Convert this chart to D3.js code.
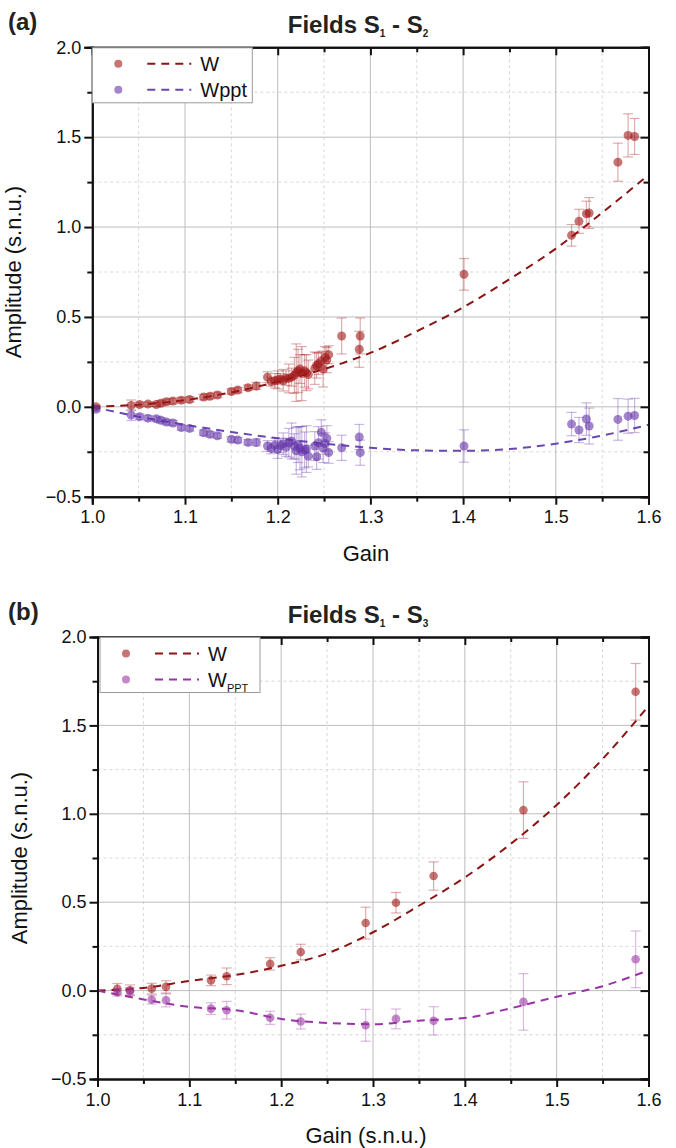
<!DOCTYPE html>
<html>
<head>
<meta charset="utf-8">
<script src="https://cdn.jsdelivr.net/npm/d3@7"></script>
<style>
  body { margin: 0; background: #fff; }
  svg { display: block; font-family: "Liberation Sans", Arial, sans-serif; }
</style>
</head>
<body>
<svg id="chart" width="676" height="1148"></svg>
<script>
// ---- panel (a): Fields S1 - S2 ----
var gainA = [1.004,1.042,1.051,1.060,1.069,1.074,1.080,1.087,1.096,1.105,1.120,1.127,1.135,1.150,1.157,1.168,1.177,1.189,1.193,1.197,1.200,1.203,1.206,1.209,1.212,1.215,1.218,1.220,1.222,1.224,1.226,1.229,1.231,1.233,1.240,1.242,1.244,1.247,1.249,1.251,1.253,1.255,1.269,1.288,1.289,1.401,1.517,1.525,1.533,1.536,1.567,1.578,1.585];
var wA = [0.0,0.008,0.013,0.015,0.013,0.02,0.028,0.032,0.037,0.041,0.054,0.059,0.066,0.085,0.093,0.106,0.116,0.165,0.14,0.145,0.15,0.155,0.148,0.16,0.158,0.165,0.175,0.19,0.2,0.21,0.185,0.2,0.19,0.18,0.215,0.23,0.24,0.255,0.21,0.275,0.26,0.29,0.394,0.32,0.394,0.737,0.954,1.032,1.074,1.078,1.361,1.51,1.504];
var wErrA = [0.01,0.03,0.012,0.012,0.012,0.015,0.015,0.015,0.015,0.015,0.015,0.015,0.015,0.015,0.015,0.015,0.02,0.03,0.025,0.04,0.05,0.03,0.06,0.04,0.08,0.05,0.1,0.16,0.12,0.08,0.15,0.09,0.1,0.08,0.09,0.07,0.06,0.05,0.1,0.06,0.07,0.05,0.1,0.1,0.1,0.088,0.06,0.067,0.07,0.086,0.106,0.12,0.1];
var pptA = [-0.014,-0.046,-0.055,-0.063,-0.067,-0.075,-0.085,-0.09,-0.115,-0.12,-0.144,-0.153,-0.161,-0.181,-0.185,-0.198,-0.198,-0.218,-0.231,-0.213,-0.237,-0.215,-0.205,-0.225,-0.2,-0.19,-0.22,-0.245,-0.21,-0.23,-0.25,-0.24,-0.235,-0.274,-0.218,-0.278,-0.2,-0.142,-0.23,-0.204,-0.175,-0.254,-0.228,-0.168,-0.255,-0.218,-0.096,-0.129,-0.068,-0.107,-0.07,-0.052,-0.048];
var pptErrA = [0.01,0.03,0.015,0.015,0.015,0.015,0.015,0.015,0.015,0.015,0.015,0.015,0.015,0.015,0.015,0.015,0.02,0.03,0.03,0.04,0.05,0.04,0.06,0.05,0.08,0.1,0.07,0.13,0.1,0.12,0.14,0.1,0.13,0.06,0.08,0.07,0.09,0.07,0.08,0.06,0.07,0.06,0.07,0.07,0.07,0.09,0.065,0.07,0.09,0.1,0.116,0.095,0.095];

// ---- panel (b): Fields S1 - S3 ----
var gainB = [1.0216,1.0354,1.059,1.0746,1.1236,1.1407,1.188,1.2213,1.292,1.325,1.366,1.4638,1.586];
var wB = [0.01,0.002,0.011,0.021,0.058,0.081,0.151,0.218,0.382,0.497,0.648,1.021,1.69];
var wErrB = [0.03,0.03,0.03,0.035,0.03,0.047,0.035,0.044,0.09,0.058,0.08,0.16,0.16];
var pptB = [-0.01,-0.004,-0.051,-0.055,-0.102,-0.111,-0.154,-0.175,-0.196,-0.16,-0.171,-0.064,0.177];
var pptErrB = [0.02,0.02,0.025,0.037,0.033,0.05,0.037,0.042,0.09,0.056,0.08,0.16,0.16];

// fitted curves
var fitGain = [1.0,1.05,1.1,1.15,1.2,1.25,1.3,1.35,1.4,1.45,1.5,1.55,1.6];
var fitWA = [0,0.012,0.037,0.08,0.14,0.21,0.30,0.42,0.553,0.71,0.88,1.08,1.29];
var fitPptA = [0,-0.055,-0.1,-0.14,-0.175,-0.205,-0.228,-0.242,-0.245,-0.235,-0.205,-0.16,-0.10];
var fitWB = [0,0.015,0.055,0.088,0.14,0.21,0.33,0.48,0.64,0.83,1.05,1.31,1.61];
var fitPptB = [0,-0.05,-0.092,-0.11,-0.16,-0.183,-0.19,-0.17,-0.155,-0.1,-0.035,0.025,0.115];

var xTicks = [1.0,1.1,1.2,1.3,1.4,1.5,1.6];
var yTicks = [-0.5,0.0,0.5,1.0,1.5,2.0];

var svg = d3.select("#chart");
var fmt = d3.format(".1f");

function drawPanel(p) {
  var x = d3.scaleLinear().domain([1.0, 1.6]).range([p.left, p.right]);
  var y = d3.scaleLinear().domain([-0.5, 2.0]).range([p.bottom, p.top]);
  var g = svg.append("g");

  var xMinor = d3.range(1.05, 1.6, 0.1);
  var yMinor = d3.range(-0.25, 2.0, 0.5);

  // grid
  g.append("g").selectAll("line").data(xMinor).enter().append("line")
    .attr("x1", d => x(d)).attr("x2", d => x(d)).attr("y1", p.top).attr("y2", p.bottom)
    .attr("stroke", "#d8d8d8").attr("stroke-dasharray", "3,3");
  g.append("g").selectAll("line").data(yMinor).enter().append("line")
    .attr("y1", d => y(d)).attr("y2", d => y(d)).attr("x1", p.left).attr("x2", p.right)
    .attr("stroke", "#d8d8d8").attr("stroke-dasharray", "3,3");
  g.append("g").selectAll("line").data(xTicks.slice(1, -1)).enter().append("line")
    .attr("x1", d => x(d)).attr("x2", d => x(d)).attr("y1", p.top).attr("y2", p.bottom)
    .attr("stroke", "#bdbdbd");
  g.append("g").selectAll("line").data(yTicks.slice(1, -1)).enter().append("line")
    .attr("y1", d => y(d)).attr("y2", d => y(d)).attr("x1", p.left).attr("x2", p.right)
    .attr("stroke", "#bdbdbd");

  // fit curves
  var line = d3.line().x((d, i) => x(fitGain[i])).y(d => y(d)).curve(d3.curveMonotoneX);
  g.append("path").attr("d", line(p.fitW)).attr("fill", "none")
    .attr("stroke", p.wLine).attr("stroke-width", 2).attr("stroke-dasharray", "8,6");
  g.append("path").attr("d", line(p.fitP)).attr("fill", "none")
    .attr("stroke", p.pLine).attr("stroke-width", 2).attr("stroke-dasharray", "8,6");

  // error bars + points
  function series(vals, errs, col) {
    var s = g.append("g");
    var cap = 5;
    vals.forEach(function (v, i) {
      var cx = x(p.gain[i]);
      var eb = s.append("g").attr("stroke", col).attr("stroke-opacity", 0.35).attr("stroke-width", 1.2);
      eb.append("line").attr("x1", cx).attr("x2", cx).attr("y1", y(v - errs[i])).attr("y2", y(v + errs[i]));
      eb.append("line").attr("x1", cx - cap).attr("x2", cx + cap).attr("y1", y(v - errs[i])).attr("y2", y(v - errs[i]));
      eb.append("line").attr("x1", cx - cap).attr("x2", cx + cap).attr("y1", y(v + errs[i])).attr("y2", y(v + errs[i]));
    });
    s.selectAll("circle").data(vals).enter().append("circle")
      .attr("cx", (d, i) => x(p.gain[i])).attr("cy", d => y(d)).attr("r", p.r)
      .attr("fill", col).attr("fill-opacity", 0.6);
  }
  series(p.w, p.wErr, p.wPt);
  series(p.ppt, p.pptErr, p.pPt);

  // axes
  var ax = g.append("g");
  ax.append("g").attr("transform", "translate(0," + p.bottom + ")")
    .call(d3.axisBottom(x).tickValues(xTicks).tickFormat(fmt).tickSize(8).tickPadding(6));
  ax.append("g").attr("transform", "translate(0," + p.bottom + ")")
    .call(d3.axisBottom(x).tickValues(xMinor).tickFormat("").tickSize(5));
  ax.append("g").attr("transform", "translate(" + p.left + ",0)")
    .call(d3.axisLeft(y).tickValues(yTicks).tickFormat(fmt).tickSize(8).tickPadding(3));
  ax.append("g").attr("transform", "translate(" + p.left + ",0)")
    .call(d3.axisLeft(y).tickValues(yMinor).tickFormat("").tickSize(5));
  ax.append("g").attr("transform", "translate(0," + p.top + ")")
    .call(d3.axisTop(x).tickValues(xTicks).tickFormat("").tickSize(-8));
  ax.append("g").attr("transform", "translate(0," + p.top + ")")
    .call(d3.axisTop(x).tickValues(xMinor).tickFormat("").tickSize(-5));
  ax.append("g").attr("transform", "translate(" + p.right + ",0)")
    .call(d3.axisRight(y).tickValues(yTicks).tickFormat("").tickSize(-8));
  ax.append("g").attr("transform", "translate(" + p.right + ",0)")
    .call(d3.axisRight(y).tickValues(yMinor).tickFormat("").tickSize(-5));
  ax.selectAll(".domain").attr("stroke", "#111").attr("stroke-width", 2);
  ax.selectAll(".tick line").attr("stroke", "#111").attr("stroke-width", 2);
  ax.selectAll(".tick text").attr("font-family", "Liberation Sans, Arial, sans-serif").attr("font-size", 18).attr("fill", "#111");

  // labels
  g.append("text").attr("x", 8).attr("y", p.top - 17).attr("font-size", 24).attr("font-weight", "bold").attr("fill", "#222").text(p.tag);
  var t = g.append("text").attr("x", 358).attr("y", p.top - 14)
    .attr("text-anchor", "middle").attr("font-size", 24).attr("font-weight", "bold").attr("fill", "#222");
  t.append("tspan").text("Fields S");
  t.append("tspan").attr("font-size", 10).attr("dy", 4).text("1");
  t.append("tspan").attr("dy", -4).text(" - S");
  t.append("tspan").attr("font-size", 10).attr("dy", 4).text(p.sub);

  g.append("text").attr("transform", "translate(" + (p.left - 71) + "," + ((p.top + p.bottom) / 2) + ") rotate(-90)")
    .attr("text-anchor", "middle").attr("font-size", 22).attr("fill", "#111").text("Amplitude (s.n.u.)");
  g.append("text").attr("x", 366).attr("y", p.bottom + 64)
    .attr("text-anchor", "middle").attr("font-size", 22).attr("fill", "#111").text(p.xLabel);

  // legend
  var lg = g.append("g").attr("transform", "translate(" + p.legX + "," + (p.top + 0.5) + ")");
  lg.append("rect").attr("width", 160).attr("height", 55).attr("fill", "#fff").attr("stroke", "#9a9a9a");
  var items = [{pt: p.wPt, ln: p.wLine, lab: "W"}, {pt: p.pPt, ln: p.pLine, lab: p.pLab}];
  items.forEach(function (it, i) {
    var yy = 16 + i * 26;
    lg.append("circle").attr("cx", 26).attr("cy", yy).attr("r", 4).attr("fill", it.pt).attr("fill-opacity", 0.6);
    lg.append("line").attr("x1", 55).attr("x2", 99).attr("y1", yy).attr("y2", yy)
      .attr("stroke", it.ln).attr("stroke-width", 2).attr("stroke-dasharray", "8,6");
    var tx = lg.append("text").attr("x", 108).attr("y", yy + 7).attr("font-size", 20).attr("fill", "#111");
    tx.append("tspan").text(it.lab);
    if (i === 1 && p.pSub) tx.append("tspan").attr("font-size", 11).attr("dy", 5).text(p.pSub);
  });
}

drawPanel({
  tag: "(a)", sub: "2", xLabel: "Gain",
  left: 92.3, right: 648.5, top: 47.3, bottom: 496.7, r: 4.5, legX: 92.3,
  gain: gainA, w: wA, wErr: wErrA, ppt: pptA, pptErr: pptErrA,
  fitW: fitWA, fitP: fitPptA,
  wPt: "#a01818", wLine: "#8b1414", pPt: "#6434a8", pLine: "#6a48b0",
  pLab: "Wppt", pSub: null
});
drawPanel({
  tag: "(b)", sub: "3", xLabel: "Gain (s.n.u.)",
  left: 97.5, right: 648.5, top: 637, bottom: 1079, r: 4.3, legX: 100,
  gain: gainB, w: wB, wErr: wErrB, ppt: pptB, pptErr: pptErrB,
  fitW: fitWB, fitP: fitPptB,
  wPt: "#a01818", wLine: "#8b1414", pPt: "#9a38a2", pLine: "#9a32a8",
  pLab: "W", pSub: "PPT"
});
</script>
</body>
</html>
